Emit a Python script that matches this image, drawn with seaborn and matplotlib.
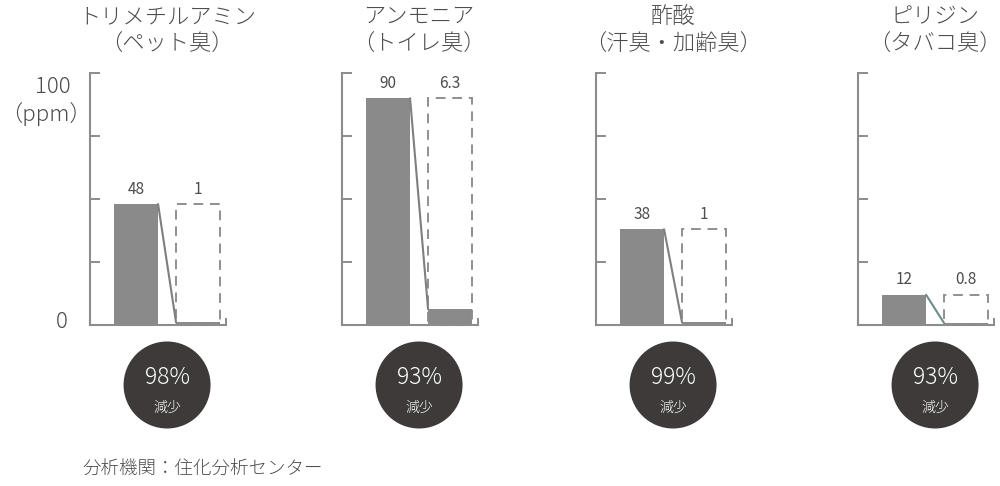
import numpy as np
import pandas as pd
import matplotlib
matplotlib.use("Agg")
import matplotlib.pyplot as plt
import matplotlib.patches as mpatches
import seaborn as sns

# data
titles = ["トリメチルアミン\n（ペット臭）", "アンモニア\n（トイレ臭）",
          "酢酸\n（汗臭・加齢臭）", "ピリジン\n（タバコ臭）"]
before_vals = [48, 90, 38, 12]
after_vals = [1, 6.3, 1, 0.8]
after_labels = ["1", "6.3", "1", "0.8"]
reductions = ["98%", "93%", "99%", "93%"]
source_note = "分析機関：住化分析センター"

sns.set_theme(style="white")
plt.rcParams['font.family'] = ['Noto Sans CJK JP', 'DejaVu Sans']
plt.rcParams['font.weight'] = 'light'

BAR = "#8a8a8a"
AXIS = "#8c8c8c"
TXT = "#4d4d4d"
CIRCLE = "#3d3a39"

fig = plt.figure(figsize=(10, 4.86), dpi=100)
W, H = 1000, 486

# background axes in pixel coords for circles / notes
bg = fig.add_axes([0, 0, 1, 1], zorder=-1)
bg.set_xlim(0, W)
bg.set_ylim(H, 0)
bg.axis("off")

lefts = [90, 342, 596, 858]
width = 0.71
xmin, xmax = -0.742, 1.45
axw = 136

for i, left in enumerate(lefts):
    ax = fig.add_axes([left / W, (H - 325) / H, axw / W, 252 / H])
    df = pd.DataFrame({"x": [0, 1], "v": [before_vals[i], after_vals[i]]})
    sns.barplot(data=df, x="x", y="v", order=[0, 1], color=BAR,
                width=width, saturation=1, ax=ax, native_scale=True,
                edgecolor="none", zorder=2)
    # dashed outline of the original level over the "after" bar
    ax.add_patch(mpatches.Rectangle((1 - width / 2, 0), width, before_vals[i],
                                    fill=False, ls=(0, (5, 3.5)), lw=1.4,
                                    ec="#8f8f8f", zorder=3))
    line_col = "#6f8c8a" if i == 3 else "#7f7f7f"
    ax.plot([width / 2, 1 - width / 2], [before_vals[i], after_vals[i]],
            color=line_col, lw=1.5, zorder=3)
    ax.text(0, before_vals[i] + 2.5, str(before_vals[i]), ha="center",
            va="bottom", fontsize=11, color=TXT, fontweight="normal")
    ax.text(1, before_vals[i] + 2.5, after_labels[i], ha="center",
            va="bottom", fontsize=11, color=TXT, fontweight="normal")

    ax.set_xlim(xmin, xmax)
    ax.set_ylim(0, 100)
    ax.set_yticks([0, 25, 50, 75, 100])
    ax.set_yticklabels([])
    ax.set_xticks([xmax])
    ax.set_xticklabels([])
    ax.tick_params(axis="y", direction="in", length=7, width=1.4, color=AXIS, left=True)
    ax.tick_params(axis="x", direction="in", length=5, width=1.4, color=AXIS, bottom=True)
    ax.set_xlabel("")
    ax.set_ylabel("")
    for s in ["top", "right"]:
        ax.spines[s].set_visible(False)
    for s in ["left", "bottom"]:
        ax.spines[s].set_color(AXIS)
        ax.spines[s].set_linewidth(1.5)
    ax.patch.set_alpha(0)

    # group centre in pixels
    cx = left + (0.5 - xmin) / (xmax - xmin) * axw
    bg.text(cx, 31, titles[i], ha="center", va="center", fontsize=16,
            color=TXT, linespacing=1.35)
    bg.add_patch(mpatches.Circle((cx, 385), 43.5, color=CIRCLE, ec="none"))
    bg.text(cx, 377, reductions[i], ha="center", va="center", fontsize=16.5,
            color="white")
    bg.text(cx, 408, "減少", ha="center", va="center", fontsize=10,
            color="white")

bg.text(71, 87, "100", ha="right", va="center", fontsize=16, color=TXT)
bg.text(0, 114, "（ppm）", ha="left", va="center", fontsize=16, color=TXT)
bg.text(68, 322, "0", ha="right", va="center", fontsize=16, color=TXT)

bg.text(82, 470, source_note, ha="left", va="center", fontsize=13.3, color=TXT)

fig.savefig("out.png", dpi=100)
